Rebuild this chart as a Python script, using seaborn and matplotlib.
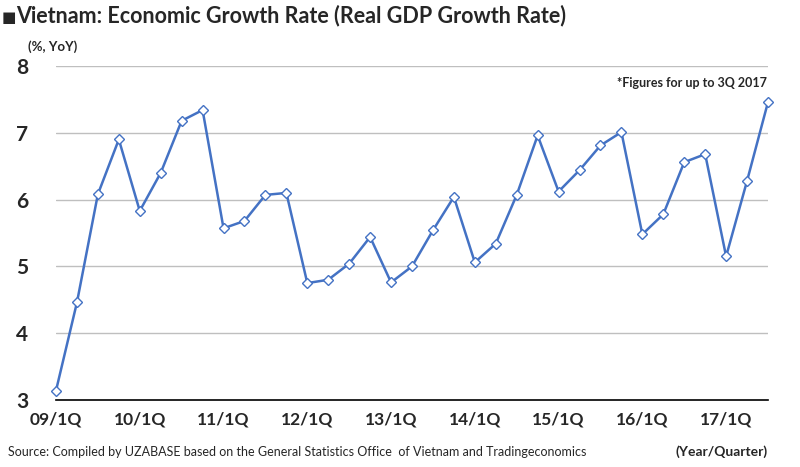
import matplotlib
matplotlib.use('Agg')
import matplotlib.pyplot as plt
import seaborn as sns
import pandas as pd

quarters = ['09/1Q', '09/2Q', '09/3Q', '09/4Q',
            '10/1Q', '10/2Q', '10/3Q', '10/4Q',
            '11/1Q', '11/2Q', '11/3Q', '11/4Q',
            '12/1Q', '12/2Q', '12/3Q', '12/4Q',
            '13/1Q', '13/2Q', '13/3Q', '13/4Q',
            '14/1Q', '14/2Q', '14/3Q', '14/4Q',
            '15/1Q', '15/2Q', '15/3Q', '15/4Q',
            '16/1Q', '16/2Q', '16/3Q', '16/4Q',
            '17/1Q', '17/2Q', '17/3Q']
growth = [3.14, 4.46, 6.08, 6.90,
          5.83, 6.40, 7.18, 7.34,
          5.57, 5.68, 6.07, 6.10,
          4.75, 4.80, 5.04, 5.44,
          4.76, 5.00, 5.54, 6.04,
          5.06, 5.34, 6.07, 6.96,
          6.12, 6.44, 6.81, 7.01,
          5.48, 5.78, 6.56, 6.68,
          5.15, 6.28, 7.46]
y_ticks = [3, 4, 5, 6, 7, 8]

df = pd.DataFrame({'quarter': quarters, 'growth': growth})
df['pos'] = range(len(df))

sns.set_style('white')
plt.rcParams['font.family'] = ['Lato', 'DejaVu Sans']

fig = plt.figure(figsize=(8, 4.67), dpi=100)
ax = fig.add_axes([0.07, 0.1435, 0.89, 0.7152])

blue = '#4472C4'
sns.lineplot(data=df, x='pos', y='growth', ax=ax, color=blue, linewidth=1.8,
             marker='D', markersize=5.5, markerfacecolor='white',
             markeredgecolor=blue, markeredgewidth=1.0, zorder=3, clip_on=False)

ax.set_xlim(0, len(df) - 1)
ax.set_ylim(3, 8)
ax.set_yticks(y_ticks)
ax.set_yticklabels([str(t) for t in y_ticks], fontsize=15, fontweight='bold')
tick_pos = df['pos'][::4]
ax.set_xticks(tick_pos)
ax.set_xticklabels(df['quarter'][::4], fontsize=12.5, fontweight='bold')
ax.tick_params(axis='y', length=0, pad=20)
ax.tick_params(axis='x', length=0, pad=8)
ax.set_xlabel('')
ax.set_ylabel('')

for t in y_ticks[1:]:
    ax.axhline(t, color='#BFBFBF', linewidth=1, zorder=1)
for s in ['left', 'right', 'top']:
    ax.spines[s].set_visible(False)
ax.spines['bottom'].set_color('black')
ax.spines['bottom'].set_linewidth(1.2)

# title: small square marker then the text
fig.text(0.002, 0.952, '■', fontsize=11, va='baseline', ha='left',
         family='DejaVu Sans')
fig.text(0.02, 0.952, 'Vietnam: Economic Growth Rate (Real GDP Growth Rate)',
         fontsize=15.5, fontweight='bold', va='baseline', ha='left')
fig.text(0.035, 0.9, '(%, YoY)', fontsize=9.5, fontweight='bold', va='center', ha='left')
fig.text(0.959, 0.822, '*Figures for up to 3Q 2017', fontsize=9, fontweight='bold',
         va='center', ha='right')
fig.text(0.01, 0.032, 'Source: Compiled by UZABASE based on the General Statistics Office  of Vietnam and Tradingeconomics',
         fontsize=9, va='center', ha='left')
fig.text(0.959, 0.032, '(Year/Quarter)', fontsize=10, fontweight='bold',
         va='center', ha='right')

fig.savefig('out.png', dpi=100)
plt.close(fig)
